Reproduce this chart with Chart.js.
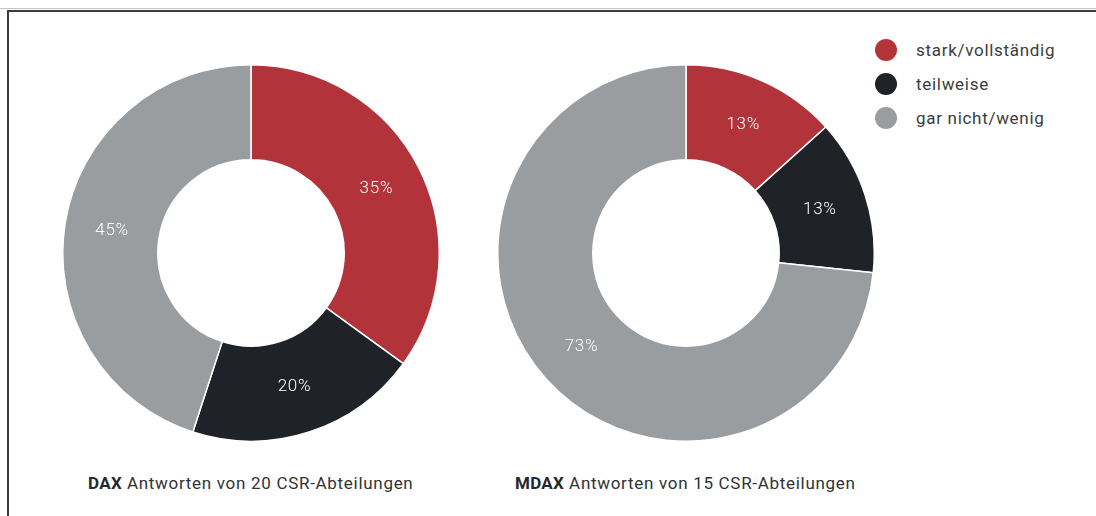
<!DOCTYPE html>
<html><head><meta charset="utf-8">
<script src="https://cdn.jsdelivr.net/npm/chart.js@4/dist/chart.umd.min.js"></script>
<style>
html,body{margin:0;padding:0;background:#fff;width:1096px;height:516px;overflow:hidden;font-family:Roboto,"Open Sans",sans-serif;}
#topline{position:absolute;left:0;top:8px;width:1096px;height:1px;background:#c4c6c8;}
#frame{position:absolute;left:7px;top:10px;width:1089px;height:510px;border-top:2px solid #3a3d40;border-left:2px solid #3a3d40;box-sizing:border-box;}
.box{position:absolute;width:378px;height:378px;}
.cap{position:absolute;top:473px;font-size:17px;letter-spacing:0.7px;color:#2f3336;white-space:nowrap;}
.cap b{font-weight:700;color:#25292c;letter-spacing:0.3px;}
#legend{position:absolute;left:875px;top:33px;}
.li{height:34px;display:flex;align-items:center;font-size:17px;letter-spacing:0.7px;color:#3a3d40;}
.dot{width:22px;height:22px;border-radius:50%;margin-right:19px;}
</style></head><body>
<div id="topline"></div>
<div id="frame"></div>
<div class="box" style="left:62px;top:64px"><canvas id="dax"></canvas></div>
<div class="box" style="left:497px;top:64px"><canvas id="mdax"></canvas></div>
<div class="cap" style="left:88px"><b>DAX</b> Antworten von 20 CSR-Abteilungen</div>
<div class="cap" style="left:515px"><b>MDAX</b> Antworten von 15 CSR-Abteilungen</div>
<div id="legend"></div>
<script>
const categories = ["stark/vollständig", "teilweise", "gar nicht/wenig"];
const colors = ["#b2333a", "#1f2327", "#999d9f"];
const daxCounts = [7, 4, 9];      // of 20 -> 35%, 20%, 45%
const mdaxCounts = [2, 2, 11];    // of 15 -> 13%, 13%, 73%

const labelPlugin = {
  id: 'sliceLabels',
  afterDatasetsDraw(chart) {
    const ctx = chart.ctx;
    const ds = chart.data.datasets[0];
    const total = ds.data.reduce((a, b) => a + b, 0);
    chart.getDatasetMeta(0).data.forEach((arc, i) => {
      const p = arc.tooltipPosition();
      const pct = Math.round(ds.data[i] / total * 100) + '%';
      ctx.save();
      ctx.fillStyle = '#ffffff';
      ctx.font = '300 17px Roboto, sans-serif';
      if ('letterSpacing' in ctx) ctx.letterSpacing = '0.7px';
      ctx.textAlign = 'center';
      ctx.textBaseline = 'middle';
      ctx.fillText(pct, p.x, p.y);
      ctx.restore();
    });
  }
};

function makeChart(id, values) {
  return new Chart(document.getElementById(id), {
    type: 'doughnut',
    data: {
      labels: categories,
      datasets: [{ data: values, backgroundColor: colors, borderColor: '#ffffff', borderWidth: 1.5 }]
    },
    options: {
      responsive: true,
      maintainAspectRatio: false,
      animation: false,
      cutout: '49.5%',
      layout: { padding: 0 },
      plugins: { legend: { display: false }, tooltip: { enabled: false } }
    },
    plugins: [labelPlugin]
  });
}
makeChart('dax', daxCounts);
makeChart('mdax', mdaxCounts);

const lg = document.getElementById('legend');
categories.forEach((c, i) => {
  const d = document.createElement('div');
  d.className = 'li';
  d.innerHTML = '<span class="dot" style="background:' + colors[i] + '"></span><span>' + c + '</span>';
  lg.appendChild(d);
});
</script>
</body></html>
